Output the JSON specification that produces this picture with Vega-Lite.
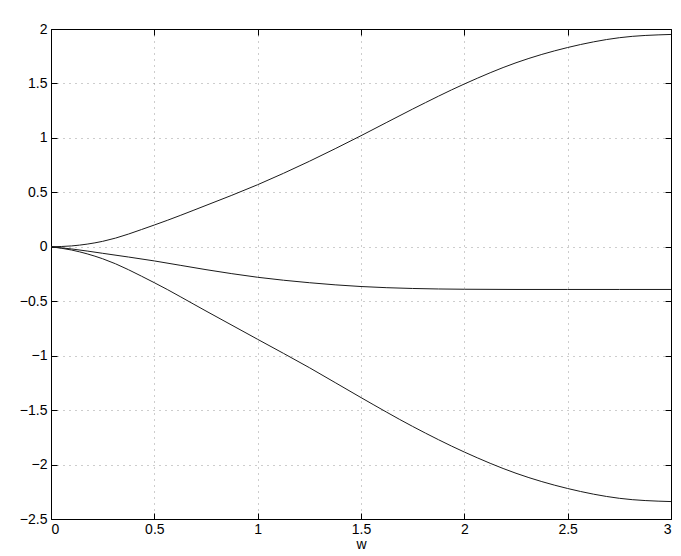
{
  "$schema": "https://vega.github.io/schema/vega-lite/v6.json",
  "width": 620,
  "height": 490,
  "autosize": {"type": "none"},
  "padding": {"left": 51, "top": 29, "right": 10, "bottom": 37},
  "background": "white",
  "config": {
    "view": {"stroke": null},
    "font": "Liberation Sans",
    "axis": {
      "labelFont": "Liberation Sans",
      "labelFontSize": 14,
      "labelColor": "black",
      "titleFont": "Liberation Sans",
      "titleFontSize": 14,
      "titleFontWeight": "normal",
      "titleColor": "black",
      "domain": true,
      "domainColor": "black",
      "domainWidth": 1,
      "tickColor": "black",
      "tickSize": -6,
      "gridColor": "#9a9a9a",
      "gridDash": [1, 5],
      "gridWidth": 1,
      "gridOpacity": 1,
      "zindex": 1
    }
  },
  "data": {
    "values": [
      {"w": 0, "y": 0, "s": "a"},
      {"w": 0.1, "y": 0.008, "s": "a"},
      {"w": 0.25, "y": 0.05, "s": "a"},
      {"w": 0.5, "y": 0.2, "s": "a"},
      {"w": 0.75, "y": 0.38, "s": "a"},
      {"w": 1, "y": 0.57, "s": "a"},
      {"w": 1.25, "y": 0.785, "s": "a"},
      {"w": 1.5, "y": 1.02, "s": "a"},
      {"w": 1.75, "y": 1.265, "s": "a"},
      {"w": 2, "y": 1.495, "s": "a"},
      {"w": 2.25, "y": 1.69, "s": "a"},
      {"w": 2.5, "y": 1.83, "s": "a"},
      {"w": 2.75, "y": 1.92, "s": "a"},
      {"w": 3, "y": 1.95, "s": "a"},
      {"w": 0, "y": 0, "s": "b"},
      {"w": 0.1, "y": -0.02, "s": "b"},
      {"w": 0.25, "y": -0.06, "s": "b"},
      {"w": 0.5, "y": -0.13, "s": "b"},
      {"w": 0.75, "y": -0.21, "s": "b"},
      {"w": 1, "y": -0.28, "s": "b"},
      {"w": 1.25, "y": -0.33, "s": "b"},
      {"w": 1.5, "y": -0.365, "s": "b"},
      {"w": 1.75, "y": -0.383, "s": "b"},
      {"w": 2, "y": -0.39, "s": "b"},
      {"w": 2.25, "y": -0.392, "s": "b"},
      {"w": 2.5, "y": -0.392, "s": "b"},
      {"w": 2.75, "y": -0.392, "s": "b"},
      {"w": 3, "y": -0.392, "s": "b"},
      {"w": 0, "y": 0, "s": "c"},
      {"w": 0.1, "y": -0.03, "s": "c"},
      {"w": 0.25, "y": -0.11, "s": "c"},
      {"w": 0.5, "y": -0.33, "s": "c"},
      {"w": 0.75, "y": -0.59, "s": "c"},
      {"w": 1, "y": -0.85, "s": "c"},
      {"w": 1.25, "y": -1.11, "s": "c"},
      {"w": 1.5, "y": -1.385, "s": "c"},
      {"w": 1.75, "y": -1.65, "s": "c"},
      {"w": 2, "y": -1.885, "s": "c"},
      {"w": 2.25, "y": -2.08, "s": "c"},
      {"w": 2.5, "y": -2.22, "s": "c"},
      {"w": 2.75, "y": -2.31, "s": "c"},
      {"w": 3, "y": -2.34, "s": "c"}
    ]
  },
  "resolve": {"axis": {"x": "independent", "y": "independent"}},
  "layer": [
    {
      "mark": {"type": "line", "color": "#1a1a1a", "strokeWidth": 1, "interpolate": "monotone"},
      "encoding": {
        "x": {
          "field": "w", "type": "quantitative",
          "scale": {"domain": [0, 3], "nice": false, "zero": false},
          "axis": {"title": "w", "values": [0, 0.5, 1, 1.5, 2, 2.5, 3], "format": "~g", "grid": true, "labelPadding": 9, "titlePadding": 1}
        },
        "y": {
          "field": "y", "type": "quantitative",
          "scale": {"domain": [-2.5, 2], "nice": false, "zero": false},
          "axis": {"title": null, "values": [-2.5, -2, -1.5, -1, -0.5, 0, 0.5, 1, 1.5, 2], "format": "~g", "grid": true, "labelPadding": 10}
        },
        "detail": {"field": "s", "type": "nominal"}
      }
    },
    {
      "mark": {"type": "line", "opacity": 0},
      "encoding": {
        "x": {
          "field": "w", "type": "quantitative",
          "axis": {"orient": "top", "title": null, "labels": false, "grid": false, "values": [0, 0.5, 1, 1.5, 2, 2.5, 3]}
        },
        "y": {
          "field": "y", "type": "quantitative",
          "axis": {"orient": "right", "title": null, "labels": false, "grid": false, "values": [-2.5, -2, -1.5, -1, -0.5, 0, 0.5, 1, 1.5, 2]}
        },
        "detail": {"field": "s", "type": "nominal"}
      }
    }
  ]
}
